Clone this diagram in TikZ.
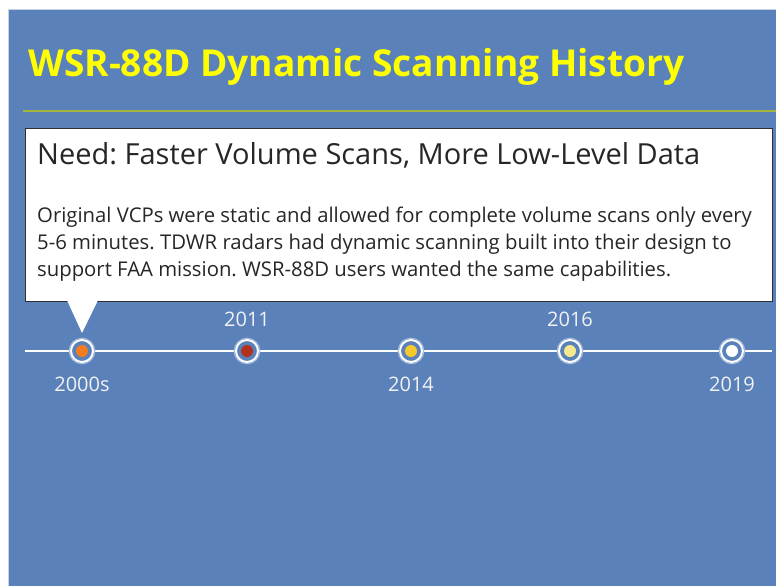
\documentclass[tikz,border=0pt]{standalone}
\usepackage{fontspec}
\setmainfont{Open Sans}
\frenchspacing
\definecolor{bgblue}{HTML}{5A81B9}
\definecolor{halo}{HTML}{A9BEDD}
\definecolor{titley}{HTML}{FFFF00}
\definecolor{rule}{HTML}{A2B43C}
\definecolor{boxline}{HTML}{2E2E2E}
\definecolor{txt}{HTML}{262626}
\definecolor{c2000}{HTML}{F47B20}
\definecolor{c2011}{HTML}{B3311C}
\definecolor{c2014}{HTML}{F3C92C}
\definecolor{c2016}{HTML}{F6E88C}
\definecolor{c2019}{HTML}{FFFFFF}
\tikzset{
  ring/.style={circle, minimum size=22pt, inner sep=0pt, fill=bgblue, draw=white, line width=2pt},
  core/.style={circle, minimum size=12pt, inner sep=0pt, draw=none},
  yearlbl/.style={anchor=base, inner sep=0pt, text=white!95!black, font=\fontsize{20}{23}\selectfont},
  tline/.style={draw=white, line width=2.5pt}
}
\begin{document}
\begin{tikzpicture}[x=1pt,y=-1pt]
\frenchspacing
\useasboundingbox (0,0) rectangle (776,586);
\fill[white] (0,0) rectangle (776,586);
\fill[bgblue] (8,9) rectangle (776,586);
\draw[halo!70!white, line width=0.8pt] (8,586) -- (8,9) -- (776,9);
% title
\node[anchor=base west, inner sep=0pt, text=titley, font=\fontsize{37.1}{42}\selectfont\bfseries] (title) at (28,77) {WSR-88D Dynamic Scanning History};
\draw[rule, line width=1.2pt] (23,111) -- (776,111);
% callout box
\draw[boxline, fill=white, line width=1pt] (25,128) rectangle (772,301);
\fill[white] (67,300.2) -- (98,300.2) -- (82,333) -- cycle;
\node[anchor=base west, inner sep=0pt, text=txt, font=\fontsize{29}{34}\selectfont\frenchspacing] (head) at (37,164) {Need: Faster Volume Scans, More Low-Level Data};
\node[anchor=base west, inner sep=0pt, text=txt, align=left, font=\fontsize{20.3}{27}\selectfont\frenchspacing] (body) at (37,276) {Original VCPs were static and allowed for complete volume scans only every\\5-6 minutes. TDWR radars had dynamic scanning built into their design to\\support FAA mission. WSR-88D users wanted the same capabilities.};
% timeline
\coordinate (tl0) at (25,351);
\coordinate (tl6) at (772,351);
\foreach \n/\x in {d1/82, d2/247, d3/411, d4/570, d5/732} {
  \coordinate (\n) at (\x,351);
}
\draw[tline] (tl0) -- (d1) -- (d2) -- (d3) -- (d4) -- (d5) -- (tl6);
\foreach \n/\c in {d1/c2000, d2/c2011, d3/c2014, d4/c2016, d5/c2019} {
  \draw[halo, line width=1pt] (\n) circle (12.8pt);
  \node[ring] (\n r) at (\n) {};
  \node[core, fill=\c] (\n c) at (\n) {};
}
\node[yearlbl] (y1) at (82,391) {2000s};
\node[yearlbl] (y2) at (247,326) {2011};
\node[yearlbl] (y3) at (411,391) {2014};
\node[yearlbl] (y4) at (570,326) {2016};
\node[yearlbl] (y5) at (732,391) {2019};
\end{tikzpicture}
\end{document}
